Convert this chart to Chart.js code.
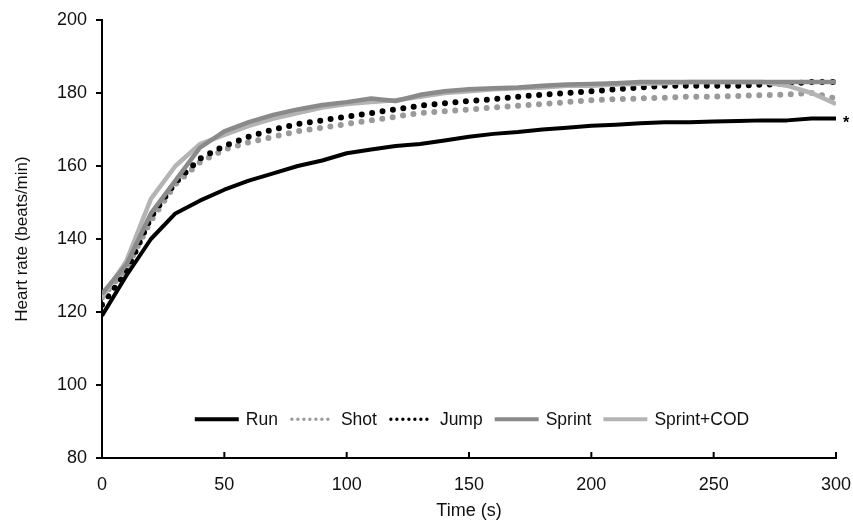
<!DOCTYPE html>
<html>
<head>
<meta charset="utf-8">
<script src="https://cdn.jsdelivr.net/npm/chart.js@4"></script>
<style>
html,body{margin:0;padding:0;background:#fff;}
#wrap{width:853px;height:527px;position:relative;}
</style>
</head>
<body>
<div id="wrap"><canvas id="c" width="853" height="527"></canvas></div>
<script>
const times = [0,10,20,30,40,50,60,70,80,90,100,110,120,130,140,150,160,170,180,190,200,210,220,230,240,250,260,270,280,290,300];
const run = [119,130,140,147,150.5,153.5,156,158,160,161.5,163.5,164.5,165.5,166,167,168,168.8,169.3,170,170.5,171,171.3,171.7,172,172,172.2,172.3,172.5,172.5,173,173];
const shot = [124,132,145,155,161,164.5,166.5,168,169.5,170.5,171.5,172.5,173.5,174.5,175,175.5,176,176.5,177,177.5,178,178.3,178.5,178.7,179,179,179.2,179.4,179.6,180,178.5];
const jump = [122,131,146,155.5,162,165.5,168,170,171.5,172.5,173.5,174.5,175.5,176.5,177.2,177.8,178.3,179,179.5,180,180.5,181,181.5,182,182,182,182,182.3,182.5,183,183];
const sprint = [125,133,147,156,165,169.5,172,174,175.5,176.7,177.5,178.5,177.8,179.5,180.5,181,181.3,181.5,182,182.3,182.5,182.7,183,183,183,183,183,183,183,183,183];
const sprintCod = [124,134,151,160,166,168.5,171,173,174.5,176,177,177.5,178,179,180,180.5,181,181.3,181.5,182,182,182.3,182.5,182.7,183,183,183,183,182,180,177];
const seriesNames = ['Run','Shot','Jump','Sprint','Sprint+COD'];
const xTicks = [0,50,100,150,200,250,300];
const yTicks = [80,100,120,140,160,180,200];
const marker = '*';

const pts = arr => times.map((t,i)=>({x:t,y:arr[i]}));

const styles = [
  {color:'#000000', width:4, dash:[], cap:'butt', legendDash:[]},
  {color:'#9a9a9a', width:6, dash:[0,10.5], cap:'round', legendDash:[0,6]},
  {color:'#000000', width:6, dash:[0,10.5], cap:'round', legendDash:[0,6]},
  {color:'#8a8a8a', width:4.5, dash:[], cap:'butt', legendDash:[]},
  {color:'#b4b4b4', width:4.5, dash:[], cap:'butt', legendDash:[]}
];
const dataArrays = [run, shot, jump, sprint, sprintCod];
const order = [0,4,3,1,2];

const datasets = dataArrays.map((arr,i)=>({
  label: seriesNames[i],
  data: pts(arr),
  borderColor: styles[i].color,
  borderWidth: styles[i].width,
  borderDash: styles[i].dash,
  borderCapStyle: styles[i].cap,
  borderJoinStyle: 'round',
  pointRadius: 0,
  fill: false,
  tension: 0,
  order: order[i]
}));

const FONT = '"Liberation Sans", Arial, sans-serif';

const legendPlugin = {
  id: 'customLegend',
  afterDatasetsDraw(chart) {
    const ctx = chart.ctx;
    ctx.save();
    ctx.font = '17.5px ' + FONT;
    ctx.textBaseline = 'middle';
    const lineW = 44, gap1 = 7, gap2 = 12;
    let total = 0;
    const widths = seriesNames.map(n => ctx.measureText(n).width);
    widths.forEach(w => total += lineW + gap1 + w + gap2);
    total -= gap2;
    const cx = 472;
    let x = cx - total/2;
    const y = chart.scales.y.getPixelForValue(90.6);
    seriesNames.forEach((n,i)=>{
      const s = styles[i];
      ctx.beginPath();
      ctx.strokeStyle = s.color;
      ctx.lineWidth = s.dash.length ? 3.4 : 4;
      ctx.lineCap = s.cap;
      ctx.setLineDash(s.legendDash);
      ctx.moveTo(x + (s.dash.length?2:0), y);
      ctx.lineTo(x + lineW, y);
      ctx.stroke();
      ctx.setLineDash([]);
      ctx.fillStyle = '#111';
      ctx.fillText(n, x + lineW + gap1, y + 1);
      x += lineW + gap1 + widths[i] + gap2;
    });
    const xs = chart.scales.x, ys = chart.scales.y;
    ctx.font = 'bold 16px ' + FONT;
    ctx.fillStyle = '#000';
    ctx.textAlign = 'left';
    ctx.fillText(marker, xs.getPixelForValue(times[times.length-1]) + 7, ys.getPixelForValue(run[run.length-1]) + 5);
    ctx.strokeStyle = '#000';
    ctx.lineWidth = 2;
    ctx.lineCap = 'butt';
    xTicks.forEach(t=>{
      const px = xs.getPixelForValue(t);
      ctx.beginPath();
      ctx.moveTo(px, xs.top);
      ctx.lineTo(px, xs.top - 6);
      ctx.stroke();
    });
    ctx.restore();
  }
};

new Chart(document.getElementById('c'), {
  type: 'line',
  data: { datasets },
  plugins: [legendPlugin],
  options: {
    responsive: false,
    animation: false,
    devicePixelRatio: 1,
    layout: { padding: { left: 0, right: 0, top: 20, bottom: 0 } },
    plugins: { legend: { display: false }, tooltip: { enabled: false } },
    scales: {
      x: {
        type: 'linear',
        min: 0, max: 300,
        afterBuildTicks: s => { s.ticks = xTicks.map(v=>({value:v})); },
        afterFit: s => { s.height = 69; s.paddingRight = 17; s.paddingLeft = 0; },
        grid: { display: false },
        border: { display: true, color: '#000', width: 2 },
        ticks: { color: '#111', font: { size: 18, family: FONT }, padding: 8, maxRotation: 0 },
        title: { display: true, text: 'Time (s)', color: '#111', font: { size: 18, family: FONT }, padding: { top: 0, bottom: 5 } }
      },
      y: {
        min: 80, max: 200,
        afterBuildTicks: s => { s.ticks = yTicks.map(v=>({value:v})); },
        afterFit: s => { s.width = 102; },
        grid: { drawOnChartArea: false, color: '#000', lineWidth: 2, tickLength: 6 },
        border: { display: true, color: '#000', width: 2 },
        ticks: { color: '#111', font: { size: 18, family: FONT }, padding: 9 },
        title: { display: true, text: 'Heart rate (beats/min)', color: '#111', font: { size: 17, family: FONT }, padding: { top: 12, bottom: 4 } }
      }
    }
  }
});
</script>
</body>
</html>
